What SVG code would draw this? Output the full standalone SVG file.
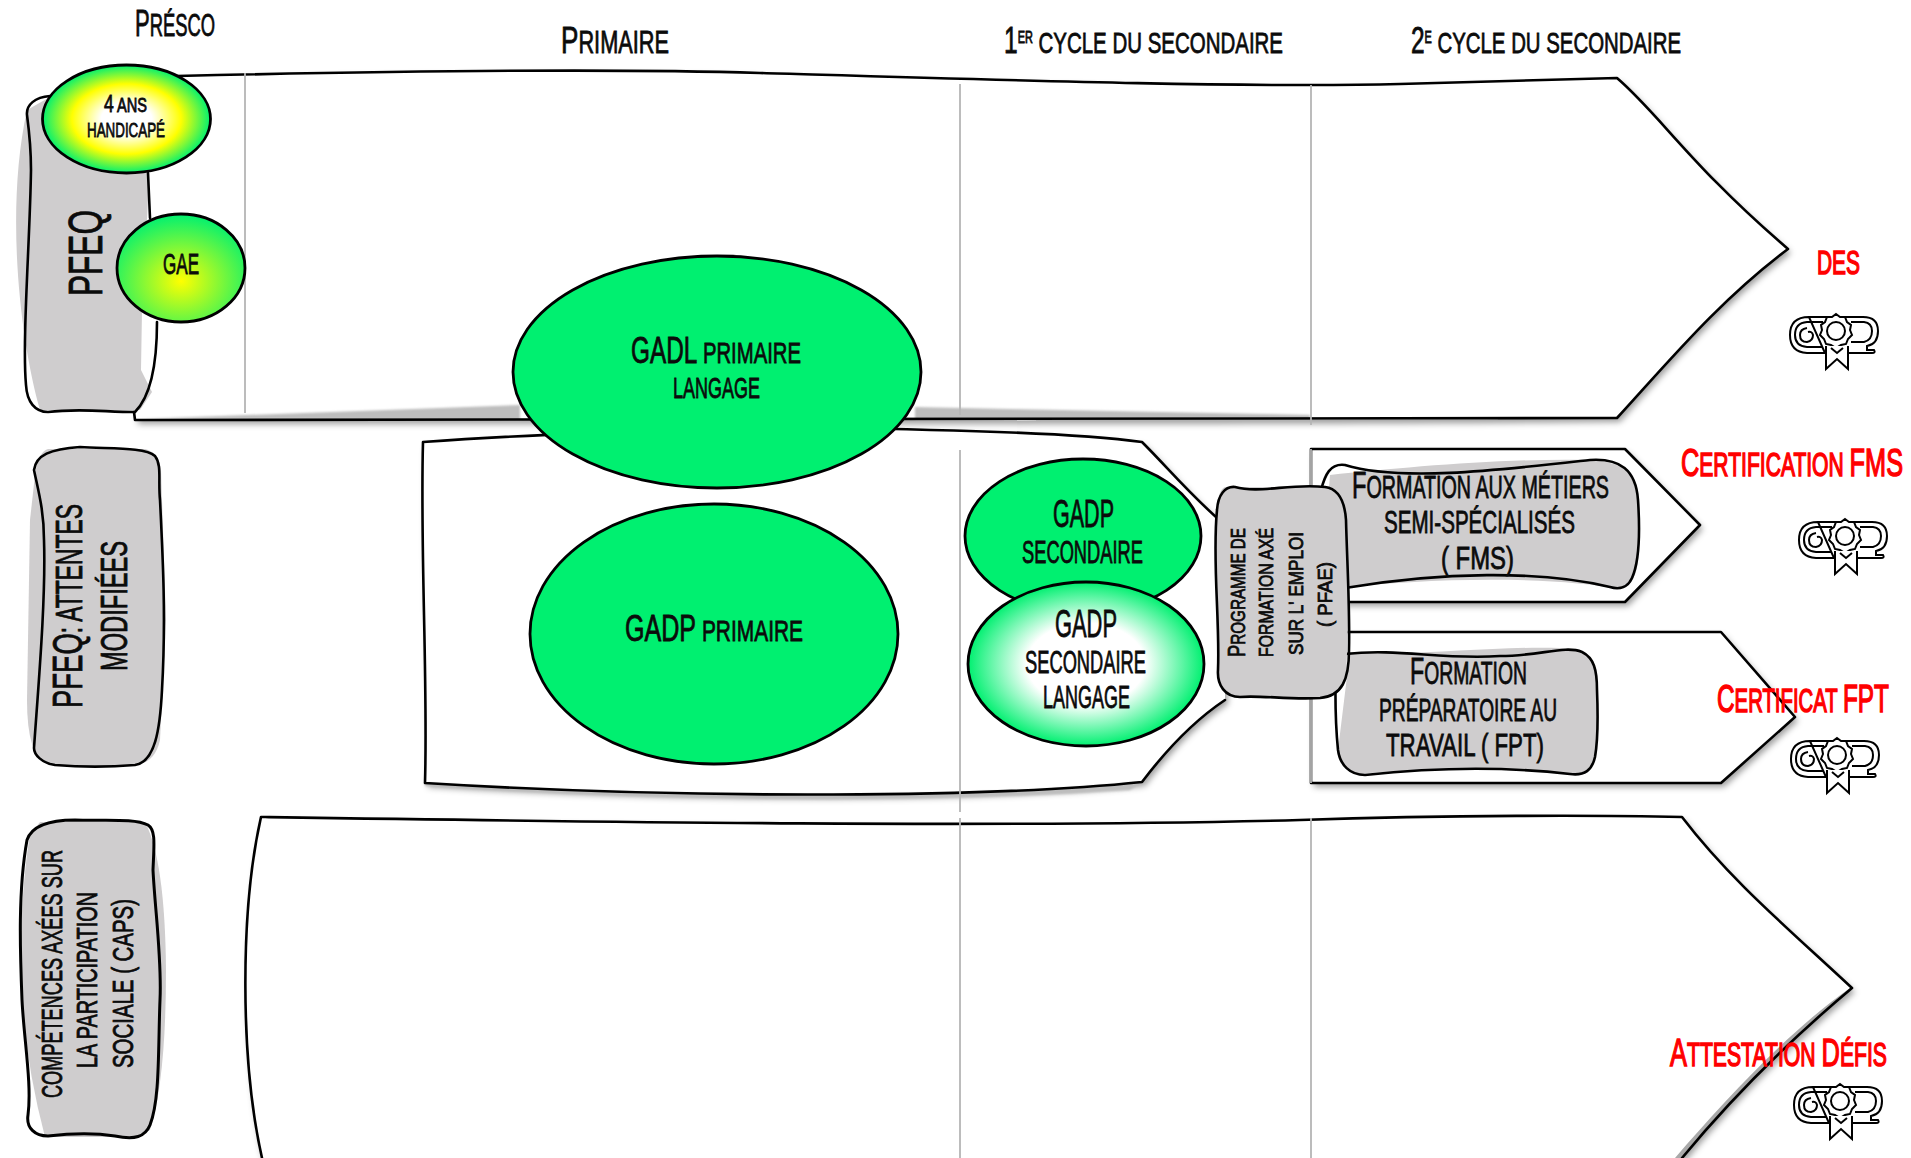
<svg xmlns="http://www.w3.org/2000/svg" xmlns:xlink="http://www.w3.org/1999/xlink" width="1911" height="1158" viewBox="0 0 1911 1158">
<style>
text{font-family:"Liberation Sans Narrow","Liberation Sans",sans-serif;text-transform:uppercase;fill:#0b0b0b;stroke:#0b0b0b;stroke-width:.8;text-anchor:start}
.r{fill:#ff0000;stroke:#ff0000;stroke-width:1.5}
.o{fill:none;stroke:#000;stroke-width:2.6;stroke-linejoin:round;stroke-linecap:round}
.a{fill:#fff;filter:url(#sh)}
.g{fill:#cfcdce}
.e{stroke:#000;stroke-width:2.8}
.v{stroke:#b5b5b5;stroke-width:1.8;fill:none}
.c{font-size:1.2em}
</style>
<defs>
<filter id="sh" x="-5%" y="-5%" width="110%" height="115%"><feDropShadow dx="3" dy="4" stdDeviation="3" flood-color="#000" flood-opacity=".38"/></filter>
<filter id="bl" x="-10%" y="-50%" width="120%" height="200%"><feGaussianBlur stdDeviation="1.2"/></filter>
<radialGradient id="g4"><stop offset="0" stop-color="#fff"/><stop offset=".3" stop-color="#fff"/><stop offset=".65" stop-color="#ffff00"/><stop offset="1" stop-color="#00f070"/></radialGradient>
<radialGradient id="gae" cx=".5" cy=".62" r=".62"><stop offset="0" stop-color="#ffff00"/><stop offset="1" stop-color="#00f070"/></radialGradient>
<radialGradient id="gl"><stop offset="0" stop-color="#fff"/><stop offset=".5" stop-color="#fff"/><stop offset="1" stop-color="#00f070"/></radialGradient>
<symbol id="dip" viewBox="0 0 90 56" overflow="visible">
<g fill="none" stroke="#000" stroke-width="2">
<path d="M20 3H74Q89 3 89 17Q89 30 78 32V36H85Q87 39 83 39H60M36 39H18Q1 38 1 21Q1 3 20 3Z"/>
<path d="M34 33H18Q6 32 6 21Q6 9 18 8H34M62 8H75Q83 9 83 17Q83 26 75 28H62"/>
<path d="M18 14Q11 15 11 21Q11 28 18 28Q24 27 24 21Q23 17 19 18"/>
<path d="M47 0L51 3 56 3 58 8 62 11 61 16 63 21 59 25 57 30 52 31 47 34 42 31 37 30 35 25 31 21 33 16 32 11 36 8 38 3 43 3Z" fill="#fff"/>
<circle cx="47" cy="17" r="9" fill="#fff"/>
<path d="M37 32V55L48 45 59 55V32M42 34 48 39 54 34" fill="#fff"/>
</g></symbol>
</defs>
<rect width="1911" height="1158" fill="#fff"/>

<g id="arrow-pfeq">
<path class="a" d="M135 420V76H177C350 72 600 68 760 73C1000 80 1250 88 1400 84C1480 82 1560 80 1617 78C1660 115 1690 165 1788 249C1720 300 1670 360 1617 418C1300 421 800 420 135 420Z"/>
<path d="M140 419L520 405V420ZM915 407L1310 415L1310 420H915Z" fill="#bdbdbd" filter="url(#bl)"/>
<path class="o" d="M177 76C350 72 600 68 760 73C1000 80 1250 88 1400 84C1480 82 1560 80 1617 78C1660 115 1690 165 1788 249C1720 300 1670 360 1617 418C1300 421 800 420 135 420L134 412"/>
</g>
<g id="arrow-caps">
<path class="a" d="M261 817C600 822 1000 828 1300 820C1450 815 1600 815 1682 817C1730 880 1790 930 1852 988C1790 1040 1730 1100 1682 1158H261C240 1060 240 910 261 817Z"/>
<path d="M1852 988C1790 1040 1730 1100 1682 1158H1675C1725 1100 1790 1030 1850 988Z" fill="#a9a9a9"/>
<path class="o" d="M262 1158C240 1060 240 910 261 817C600 822 1000 828 1300 820C1450 815 1600 815 1682 817C1730 880 1790 930 1852 988C1790 1040 1730 1100 1682 1158"/>
</g>
<g id="arrow-attentes">
<path class="a" d="M423 442C560 432 800 425 930 430C1020 432 1090 435 1142 442C1170 470 1190 495 1225 525V700C1195 720 1170 745 1142 782C1000 797 700 800 425 783C428 680 420 550 423 442Z"/>
<path d="M425 783C700 800 1000 797 1142 782L1130 790C900 805 650 800 425 786Z" fill="#bdbdbd" filter="url(#bl)"/>
<path class="o" d="M425 783C428 680 420 550 423 442C560 432 800 425 930 430C1020 432 1090 435 1142 442C1170 470 1190 495 1225 525M1225 700C1195 720 1170 745 1142 782C1000 797 700 800 425 783"/>
</g>
<g id="arrow-fms">
<path class="a" d="M1311 449H1625L1700 525L1625 602H1311Z"/>
<path class="o" d="M1311 602V449H1625L1700 525L1625 602H1311Z"/>
</g>
<g id="arrow-fpt">
<path class="a" d="M1311 632H1721L1795 717L1721 783H1311Z"/>
<path class="o" d="M1311 783V632H1721L1795 717L1721 783H1311Z"/>
</g>
<g id="lignes">
<path class="v" d="M245 73V413M960 84V415M960 450V812M960 818V1158M1311 85V425M1311 449V783M1311 818V1158"/>
</g>

<g id="pfeq">
<path class="g" d="M50 97H147L148 200L142 310L141 370L152 392L140 410H40C20 340 5 210 27 110Z"/>
<path class="o" d="M27 115C26 105 35 97 50 96M148 173L150 218M157 322C157 360 152 395 135 412C105 412 80 408 48 412C35 412 27 402 26 385C22 340 30 240 31 170C31 145 29 130 27 115"/>
<text transform="translate(102,296) rotate(-90)" font-size="48" textLength="86" lengthAdjust="spacingAndGlyphs">PFEQ</text>
</g>
<g id="presco-4ans">
<ellipse class="e" cx="126.500" cy="119" rx="84" ry="54" fill="url(#g4)"/>
<text x="104" y="112" font-size="20" textLength="43" lengthAdjust="spacingAndGlyphs"><tspan class="c">4</tspan> ans</text>
<text x="87" y="137" font-size="21" textLength="78" lengthAdjust="spacingAndGlyphs">handicapé</text>
</g>
<g id="gae">
<ellipse class="e" cx="181" cy="268" rx="64" ry="54" fill="url(#gae)"/>
<text x="163" y="274" font-size="30" textLength="36" lengthAdjust="spacingAndGlyphs">GAE</text>
</g>

<g id="pfeq-attentes">
<path class="g" d="M48 449H145Q158 452 161 470L166 620L160 740Q155 763 135 765H50Q27 760 27 700L30 520L35 475Q38 452 48 449Z"/>
<path class="o" d="M34 470C36 455 50 449 80 447C110 449 145 447 155 456C162 465 158 480 160 500C163 560 166 620 162 690C160 730 155 762 135 765C110 767 80 767 55 765C42 763 34 755 34 748C38 690 46 600 44 540C44 510 38 490 34 470Z"/>
<text transform="translate(82,708) rotate(-90)" font-size="36" textLength="204" lengthAdjust="spacingAndGlyphs"><tspan class="c">PFEQ</tspan>: attentes</text>
<text transform="translate(127,671) rotate(-90)" font-size="36" textLength="130" lengthAdjust="spacingAndGlyphs">modifiées</text>
</g>

<g id="caps">
<path class="g" d="M40 822H145Q165 860 166 970Q166 1080 150 1130L135 1137H45Q22 1050 20 960Q22 880 30 835Z"/>
<path class="o" style="stroke-width:3" d="M27 840C32 825 50 820 75 820C105 821 135 818 148 825C156 830 154 845 153 870C155 910 162 960 160 1000C158 1050 160 1100 150 1125C145 1137 135 1140 115 1136C90 1132 65 1134 48 1136C35 1136 26 1128 28 1115C32 1085 24 1040 22 1000C20 950 18 890 27 840Z"/>
<text transform="translate(62,1098) rotate(-90)" font-size="30" textLength="248" lengthAdjust="spacingAndGlyphs">Compétences axées sur</text>
<text transform="translate(97,1068) rotate(-90)" font-size="30" textLength="176" lengthAdjust="spacingAndGlyphs">la participation</text>
<text transform="translate(133,1068) rotate(-90)" font-size="30" textLength="169" lengthAdjust="spacingAndGlyphs">sociale ( CAPS)</text>
</g>

<g id="gadl-primaire">
<ellipse class="e" cx="717" cy="372" rx="204" ry="116" fill="#00f070"/>
<text x="631" y="363" font-size="30" textLength="170" lengthAdjust="spacingAndGlyphs"><tspan class="c">GADL</tspan> primaire</text>
<text x="673" y="398" font-size="30" textLength="87" lengthAdjust="spacingAndGlyphs">langage</text>
</g>
<g id="gadp-primaire">
<ellipse class="e" cx="714" cy="634" rx="184" ry="130" fill="#00f070"/>
<text x="625" y="641" font-size="30" textLength="178" lengthAdjust="spacingAndGlyphs"><tspan class="c">GADP</tspan> primaire</text>
</g>
<g id="gadp-secondaire">
<ellipse class="e" cx="1083" cy="536" rx="118" ry="77" fill="#00f070"/>
<text x="1053" y="527" font-size="38" textLength="61" lengthAdjust="spacingAndGlyphs">GADP</text>
<text x="1022" y="563" font-size="31" textLength="121" lengthAdjust="spacingAndGlyphs">secondaire</text>
</g>
<g id="gadp-secondaire-langage">
<ellipse class="e" cx="1086" cy="664" rx="118" ry="82" fill="url(#gl)"/>
<text x="1055" y="637" font-size="38" textLength="62" lengthAdjust="spacingAndGlyphs">GADP</text>
<text x="1025" y="673" font-size="31" textLength="121" lengthAdjust="spacingAndGlyphs">secondaire</text>
<text x="1043" y="708" font-size="31" textLength="87" lengthAdjust="spacingAndGlyphs">langage</text>
</g>

<g id="fms">
<path class="g" d="M1330 475C1400 468 1500 458 1590 460C1620 462 1636 470 1638 500V560Q1636 585 1620 589C1560 578 1450 575 1321 590Z"/>
<path class="o" d="M1321 490C1325 475 1330 463 1345 465C1400 482 1500 470 1590 460C1620 458 1636 470 1638 500C1640 530 1640 560 1632 578C1628 587 1620 590 1610 587C1540 570 1440 572 1345 588"/>
<text x="1352" y="498" font-size="31" textLength="257" lengthAdjust="spacingAndGlyphs"><tspan class="c">F</tspan>ormation aux métiers</text>
<text x="1384" y="533" font-size="31" textLength="191" lengthAdjust="spacingAndGlyphs">semi-spécialisés</text>
<text x="1441" y="569" font-size="31" textLength="73" lengthAdjust="spacingAndGlyphs">( FMS)</text>
</g>
<g id="fpt">
<path class="g" d="M1350 652C1430 656 1490 646 1560 648C1590 650 1597 665 1597 690V750Q1595 772 1575 774C1500 768 1420 768 1360 774Q1340 772 1338 750Z"/>
<path class="o" d="M1345 654C1400 648 1440 660 1500 656C1540 656 1565 645 1582 652C1594 658 1597 670 1597 690C1598 715 1598 740 1595 757C1592 770 1585 776 1570 774C1500 766 1430 768 1365 775C1350 775 1340 765 1338 750C1335 720 1335 690 1336 660"/>
<text x="1410" y="684" font-size="31" textLength="117" lengthAdjust="spacingAndGlyphs"><tspan class="c">F</tspan>ormation</text>
<text x="1379" y="721" font-size="31" textLength="178" lengthAdjust="spacingAndGlyphs">préparatoire au</text>
<text x="1386" y="756" font-size="31" textLength="158" lengthAdjust="spacingAndGlyphs">travail ( FPT)</text>
</g>
<g id="pfae">
<path class="g" d="M1225 487H1330Q1346 490 1346 520L1349 600L1346 680Q1340 697 1320 698H1240Q1218 695 1218 670L1216 600L1217 510Q1218 490 1225 487Z"/>
<path class="o" d="M1217 510C1218 495 1225 486 1235 487C1260 494 1290 483 1325 487C1340 489 1345 505 1346 520C1347 560 1350 610 1349 650C1349 680 1342 696 1320 698C1290 700 1260 695 1240 697C1225 697 1217 685 1218 670C1220 620 1212 560 1217 510Z"/>
<g font-size="20">
<text transform="translate(1245,657) rotate(-90)" textLength="129" lengthAdjust="spacingAndGlyphs"><tspan class="c">P</tspan>rogramme de</text>
<text transform="translate(1273,657) rotate(-90)" textLength="129" lengthAdjust="spacingAndGlyphs">formation axé</text>
<text transform="translate(1303,655) rotate(-90)" textLength="123" lengthAdjust="spacingAndGlyphs">sur l' emploi</text>
<text transform="translate(1332,627) rotate(-90)" textLength="65" lengthAdjust="spacingAndGlyphs">( PFAE)</text>
</g>
</g>

<g id="titres">
<text x="135" y="36" font-size="31" textLength="80" lengthAdjust="spacingAndGlyphs"><tspan class="c">P</tspan>résco</text>
<text x="561" y="53" font-size="31" textLength="108" lengthAdjust="spacingAndGlyphs"><tspan class="c">P</tspan>rimaire</text>
<text x="1004" y="53" font-size="30" textLength="279" lengthAdjust="spacingAndGlyphs"><tspan class="c">1</tspan><tspan font-size="16" dy="-10">er</tspan><tspan dy="10"> cycle du secondaire</tspan></text>
<text x="1411" y="53" font-size="30" textLength="270" lengthAdjust="spacingAndGlyphs"><tspan class="c">2</tspan><tspan font-size="16" dy="-10">e</tspan><tspan dy="10"> cycle du secondaire</tspan></text>
</g>
<g id="diplome-des">
<text class="r" x="1817" y="274" font-size="33" textLength="43" lengthAdjust="spacingAndGlyphs">DES</text>
<use href="#dip" x="1789" y="314" width="90" height="56"/>
</g>
<g id="diplome-fms">
<text class="r" x="1681" y="476" font-size="33" textLength="222" lengthAdjust="spacingAndGlyphs"><tspan class="c">C</tspan>ertification <tspan class="c">FMS</tspan></text>
<use href="#dip" x="1798" y="519" width="90" height="56"/>
</g>
<g id="diplome-fpt">
<text class="r" x="1717" y="712" font-size="33" textLength="172" lengthAdjust="spacingAndGlyphs"><tspan class="c">C</tspan>ertificat <tspan class="c">FPT</tspan></text>
<use href="#dip" x="1790" y="738" width="90" height="56"/>
</g>
<g id="diplome-defis">
<text class="r" x="1670" y="1066" font-size="33" textLength="217" lengthAdjust="spacingAndGlyphs"><tspan class="c">A</tspan>ttestation <tspan class="c">D</tspan>éfis</text>
<use href="#dip" x="1793" y="1084" width="90" height="56"/>
</g>
</svg>
